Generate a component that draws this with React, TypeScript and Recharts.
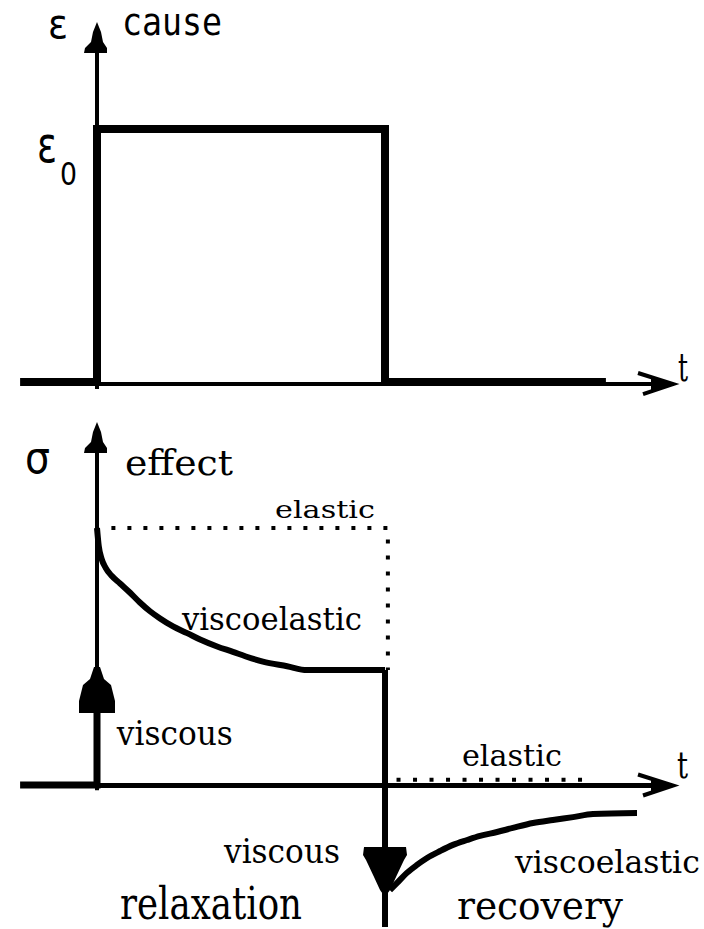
import React from 'react';
import { LineChart, Line, XAxis, YAxis, ReferenceDot } from 'recharts';

const W = 704;
const TOP_H = 420;
const BOT_H = 509;

const SERIF = '"DejaVu Serif", "Liberation Serif", serif';
const SANS = '"DejaVu Sans", sans-serif';
const MONO = '"DejaVu Sans Mono", "Liberation Mono", monospace';

// shared time domain (t = 0 loading, t = 1 unloading)
const T_DOMAIN: [number, number] = [-0.3368, 2.1076];
const CAUSE_DOMAIN: [number, number] = [-0.1502, 1.5099];
const EFFECT_DOMAIN: [number, number] = [-0.5603, 1.4202];

// ---- cause: strain step ----
const causeT = [-0.267, 0, 0, 1, 1, 1.767];
const causeStrain = [0, 0, 1, 1, 0, 0];

// ---- axes ----
const axisStartT = 0;
const axisEndT = 2.0;
const causeAxisTop = 1.423;
const effectAxisTop = 1.4125;

// ---- effect: elastic response (dotted) ----
const elasticLoadT = [0.05, 1.01, 1.01];
const elasticLoadS = [1, 1, 0.447];
const elasticUnloadT = [1.04, 1.7];
const elasticUnloadS = [0.02, 0.02];

// ---- effect: viscous response ----
const viscousLoadT = [-0.267, 0, 0];
const viscousLoadS = [0, 0, 0.3];
const viscousTipLoad = 0.459;
const viscousTipUnload = -0.436;

// ---- effect: viscoelastic relaxation & recovery ----
const relaxT = [0, 0.006, 0.016, 0.03, 0.05, 0.08, 0.115, 0.149, 0.184, 0.219, 0.264, 0.313, 0.358, 0.417, 0.472, 0.517, 0.576, 0.66, 0.729, 1.0];
const relaxS = [1.0, 0.93, 0.88, 0.845, 0.815, 0.784, 0.748, 0.71, 0.676, 0.648, 0.617, 0.591, 0.566, 0.539, 0.518, 0.5, 0.48, 0.462, 0.447, 0.447];
const dropT = [1, 1];
const dropS = [0.447, -0.553];
const recoveryT = [1.017, 1.042, 1.076, 1.111, 1.146, 1.191, 1.236, 1.285, 1.33, 1.389, 1.444, 1.514, 1.583, 1.653, 1.722, 1.875];
const recoveryS = [-0.409, -0.381, -0.342, -0.311, -0.284, -0.257, -0.233, -0.214, -0.198, -0.183, -0.167, -0.148, -0.136, -0.125, -0.113, -0.109];

type Label = { text: string; t: number; v: number; size: number; len: number; font: string; sub?: string };

const causeLabels: Label[] = [
  { text: 'ε', t: -0.17, v: 1.36, size: 40, len: 20, font: SANS },
  { text: 'cause', t: 0.087, v: 1.372, size: 37, len: 100, font: MONO },
  { text: 'ε', t: -0.208, v: 0.87, size: 50, len: 20, font: SANS, sub: '0' },
  { text: 't', t: 2.017, v: 0.004, size: 40, len: 10, font: SERIF },
];

const effectLabels: Label[] = [
  { text: 'σ', t: -0.25, v: 1.214, size: 44, len: 25, font: SANS },
  { text: 'effect', t: 0.097, v: 1.206, size: 36, len: 108, font: SERIF },
  { text: 'elastic', t: 0.618, v: 1.039, size: 25, len: 100, font: SERIF },
  { text: 'viscoelastic', t: 0.295, v: 0.603, size: 32, len: 180, font: SERIF },
  { text: 'viscous', t: 0.069, v: 0.156, size: 33, len: 116, font: SERIF },
  { text: 'elastic', t: 1.267, v: 0.074, size: 30, len: 100, font: SERIF },
  { text: 't', t: 2.014, v: 0.027, size: 38, len: 11, font: SERIF },
  { text: 'viscous', t: 0.441, v: -0.304, size: 33, len: 116, font: SERIF },
  { text: 'viscoelastic', t: 1.451, v: -0.342, size: 31, len: 185, font: SERIF },
  { text: 'relaxation', t: 0.08, v: -0.52, size: 44, len: 182, font: SERIF },
  { text: 'recovery', t: 1.25, v: -0.52, size: 40, len: 166, font: SERIF },
];

const zip = (ts: number[], vs: number[]) => ts.map((t, i) => ({ t, v: vs[i] }));

const shapeAt = (d: string, fill = '#000') => (p: any) => (
  <path transform={`translate(${p.cx},${p.cy})`} d={d} fill={fill} />
);

const UP_AXIS_HEAD = 'M0,0 L4,10 L6,20 L10,26 L10,31 L-13,31 L-12,26 L-6,20 L-4,10 Z';
const RIGHT_AXIS_BARBS = 'M-35,-11 L0,0 L-30,10';
const RIGHT_AXIS_FILL = 'M-22,-7 L0,0 L-22,7 Z';
const VISCOUS_UP = 'M-3,0 L3,0 L7,12 L14,18 L18,34 L18,46 L-18,46 L-18,34 L-14,18 L-7,12 Z';
const VISCOUS_DOWN = 'M0,0 L-5,-7 L-11,-20 L-19,-37 L-22,-42 L-21,-50 L21,-50 L22,-42 L19,-37 L11,-20 L5,-7 Z';

const rightArrow = (p: any) => (
  <g transform={`translate(${p.cx},${p.cy})`}>
    <path d={RIGHT_AXIS_BARBS} fill="none" stroke="#000" strokeWidth={4} />
    <path d={RIGHT_AXIS_FILL} fill="#000" />
  </g>
);

const labelShape = (l: Label) => (p: any) =>
  l.sub ? (
    <text x={p.cx} y={p.cy} fontFamily={l.font} fill="#000">
      <tspan fontSize={l.size} textLength={l.len} lengthAdjust="spacingAndGlyphs">
        {l.text}
      </tspan>
      <tspan x={p.cx + 23} y={p.cy + 23} fontSize={32} textLength={17} lengthAdjust="spacingAndGlyphs">
        {l.sub}
      </tspan>
    </text>
  ) : (
    <text
      x={p.cx}
      y={p.cy}
      fontSize={l.size}
      fontFamily={l.font}
      textLength={l.len}
      lengthAdjust="spacingAndGlyphs"
      fill="#000"
    >
      {l.text}
    </text>
  );

const lineProps = { dot: false, activeDot: false, isAnimationActive: false, dataKey: 'v', stroke: '#000' } as const;

export default function App() {
  return (
    <div style={{ position: 'absolute', left: 0, top: 0, width: W, height: TOP_H + BOT_H, background: '#fff' }}>
      {/* cause panel */}
      <LineChart width={W} height={TOP_H} margin={{ top: 0, right: 0, bottom: 0, left: 0 }}>
        <XAxis type="number" dataKey="t" domain={T_DOMAIN} allowDataOverflow hide />
        <YAxis type="number" domain={CAUSE_DOMAIN} allowDataOverflow hide />
        <Line {...lineProps} data={zip([axisStartT, axisStartT], [-0.028, causeAxisTop - 0.04])} strokeWidth={4} type="linear" />
        <Line {...lineProps} data={zip([axisStartT, axisEndT - 0.02], [-0.008, -0.008])} strokeWidth={4} type="linear" />
        <Line {...lineProps} data={zip(causeT, causeStrain)} strokeWidth={8} type="linear" strokeLinejoin="miter" />
        <ReferenceDot x={axisStartT} y={causeAxisTop} r={0} shape={shapeAt(UP_AXIS_HEAD)} />
        <ReferenceDot x={axisEndT} y={-0.008} r={0} shape={rightArrow} />
        {causeLabels.map((l, i) => (
          <ReferenceDot key={i} x={l.t} y={l.v} r={0} shape={labelShape(l)} />
        ))}
      </LineChart>
      {/* effect panel */}
      <LineChart width={W} height={BOT_H} margin={{ top: 0, right: 0, bottom: 0, left: 0 }}>
        <XAxis type="number" dataKey="t" domain={T_DOMAIN} allowDataOverflow hide />
        <YAxis type="number" domain={EFFECT_DOMAIN} allowDataOverflow hide />
        <Line {...lineProps} data={zip([axisStartT, axisStartT], [-0.02, effectAxisTop - 0.04])} strokeWidth={4} type="linear" />
        <Line {...lineProps} data={zip([axisStartT, axisEndT - 0.02], [-0.002, -0.002])} strokeWidth={5} type="linear" />
        <Line {...lineProps} data={zip(elasticLoadT, elasticLoadS)} strokeWidth={4} strokeDasharray="4 12" type="linear" />
        <Line {...lineProps} data={zip(elasticUnloadT, elasticUnloadS)} strokeWidth={4} strokeDasharray="4 12.5" type="linear" />
        <Line {...lineProps} data={zip(viscousLoadT, viscousLoadS)} strokeWidth={7} type="linear" strokeLinejoin="miter" />
        <Line {...lineProps} data={zip(relaxT, relaxS)} strokeWidth={6} type="monotone" />
        <Line {...lineProps} data={zip(dropT, dropS)} strokeWidth={6} type="linear" />
        <Line {...lineProps} data={zip(recoveryT, recoveryS)} strokeWidth={6} type="monotone" />
        <ReferenceDot x={axisStartT} y={effectAxisTop} r={0} shape={shapeAt(UP_AXIS_HEAD)} />
        <ReferenceDot x={axisEndT} y={-0.002} r={0} shape={rightArrow} />
        <ReferenceDot x={0} y={viscousTipLoad} r={0} shape={shapeAt(VISCOUS_UP)} />
        <ReferenceDot x={1} y={viscousTipUnload} r={0} shape={shapeAt(VISCOUS_DOWN)} />
        {effectLabels.map((l, i) => (
          <ReferenceDot key={i} x={l.t} y={l.v} r={0} shape={labelShape(l)} />
        ))}
      </LineChart>
    </div>
  );
}
